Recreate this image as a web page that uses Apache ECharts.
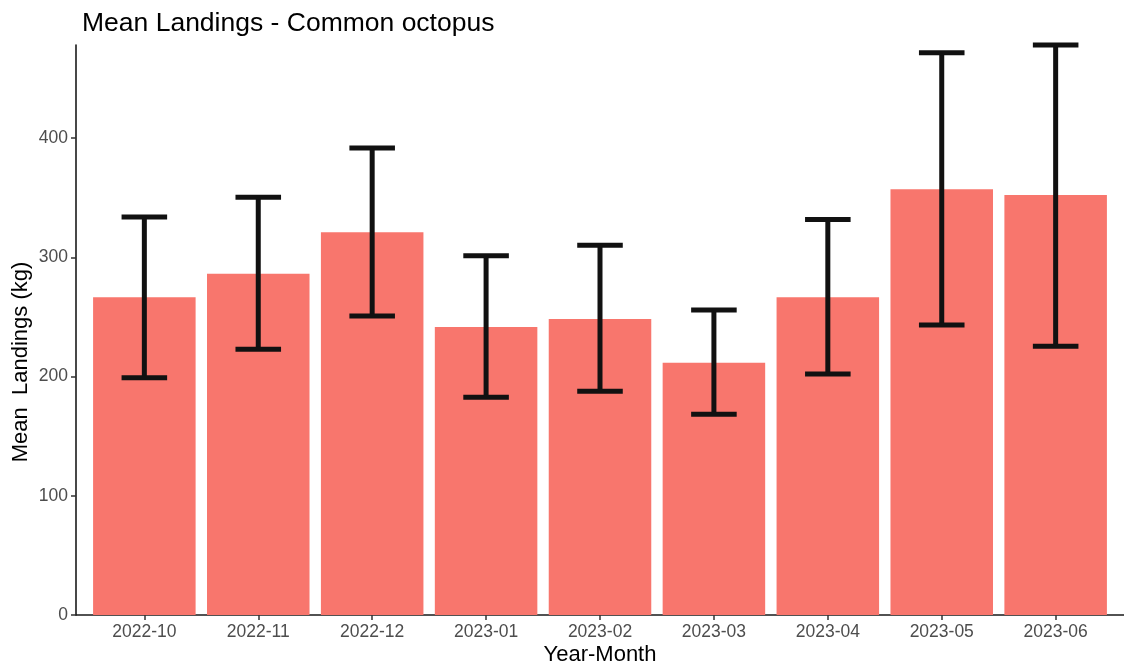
<!DOCTYPE html>
<html>
<head>
<meta charset="utf-8">
<title>Mean Landings - Common octopus</title>
<script src="https://cdn.jsdelivr.net/npm/echarts@6/dist/echarts.min.js"></script>
<style>
  html, body { margin: 0; padding: 0; background: #ffffff; }
  #chart { width: 1124px; height: 670px; }
</style>
</head>
<body>
<div id="chart"></div>
<script>
// Monthly mean landings (kg) with lower / upper error limits
const months = ['2022-10', '2022-11', '2022-12', '2023-01', '2023-02', '2023-03', '2023-04', '2023-05', '2023-06'];
const meanLandings = [266.4, 286.2, 320.9, 241.5, 248.2, 211.6, 266.4, 357.0, 352.2];
const lowerLimit = [199.0, 222.9, 250.7, 182.6, 187.7, 168.3, 202.1, 243.1, 225.3];
const upperLimit = [333.8, 350.3, 391.6, 301.3, 310.0, 255.8, 331.6, 471.5, 477.9];
const yTicks = [0, 100, 200, 300, 400];

const FONT = '"Liberation Sans", Arial, Helvetica, sans-serif';
const monthIdx = months.map((m, i) => i);

const barData = months.map((m, i) => [i, meanLandings[i]]);
const errData = months.map((m, i) => [i, lowerLimit[i], upperLimit[i]]);

const chart = echarts.init(document.getElementById('chart'), null, { renderer: 'canvas' });

chart.setOption({
  backgroundColor: '#ffffff',
  animation: false,
  title: {
    text: 'Mean Landings - Common octopus',
    left: 77,
    top: 5,
    textStyle: { fontFamily: FONT, fontSize: 26.5, fontWeight: 'normal', color: '#000000' }
  },
  grid: { left: 76, right: 0, top: 45, bottom: 55, containLabel: false, outerBoundsMode: 'none' },
  xAxis: {
    type: 'value',
    min: -0.6,
    max: 8.6,
    name: 'Year-Month',
    nameLocation: 'middle',
    nameGap: 29,
    nameMoveOverlap: false,
    nameTextStyle: { fontFamily: FONT, fontSize: 22, color: '#000000' },
    axisLine: { show: true, onZero: false, lineStyle: { color: '#1a1a1a', width: 1.6 } },
    axisTick: { show: true, length: 5, customValues: monthIdx, lineStyle: { color: '#333333', width: 1.5 } },
    axisLabel: {
      customValues: monthIdx,
      margin: 8,
      fontFamily: FONT, fontSize: 17.5, color: '#4d4d4d',
      formatter: v => months[Math.round(v)]
    },
    splitLine: { show: false }
  },
  yAxis: {
    type: 'value',
    min: 0,
    max: 478,
    interval: 100,
    name: 'Mean  Landings (kg)',
    nameLocation: 'middle',
    nameGap: 44,
    nameMoveOverlap: false,
    nameTextStyle: { fontFamily: FONT, fontSize: 22, color: '#000000', padding: [0, 64, 0, 0] },
    axisLine: { show: true, onZero: false, lineStyle: { color: '#1a1a1a', width: 1.6 } },
    axisTick: { show: true, length: 5, customValues: yTicks, lineStyle: { color: '#333333', width: 1.5 } },
    axisLabel: {
      customValues: yTicks,
      margin: 8,
      fontFamily: FONT, fontSize: 17.5, color: '#4d4d4d'
    },
    splitLine: { show: false }
  },
  series: [
    {
      name: 'Mean landings',
      type: 'custom',
      data: barData,
      encode: { x: 0, y: 1 },
      renderItem: function (params, api) {
        const i = api.value(0);
        const top = api.coord([i, api.value(1)]);
        const base = api.coord([i, 0]);
        const w = api.size([0.9, 0])[0];
        return {
          type: 'rect',
          shape: { x: top[0] - w / 2, y: top[1], width: w, height: base[1] - top[1] },
          style: { fill: '#F8766D' }
        };
      }
    },
    {
      name: 'Error',
      type: 'custom',
      data: errData,
      encode: { x: 0, y: [1, 2] },
      z: 3,
      renderItem: function (params, api) {
        const i = api.value(0);
        const lo = api.coord([i, api.value(1)]);
        const hi = api.coord([i, api.value(2)]);
        const half = api.size([0.4, 0])[0] / 2;
        const st = { stroke: '#111111', lineWidth: 5, lineCap: 'butt' };
        return {
          type: 'group',
          children: [
            { type: 'line', shape: { x1: lo[0], y1: lo[1], x2: hi[0], y2: hi[1] }, style: st },
            { type: 'line', shape: { x1: hi[0] - half, y1: hi[1], x2: hi[0] + half, y2: hi[1] }, style: st },
            { type: 'line', shape: { x1: lo[0] - half, y1: lo[1], x2: lo[0] + half, y2: lo[1] }, style: st }
          ]
        };
      }
    }
  ]
});
</script>
</body>
</html>
